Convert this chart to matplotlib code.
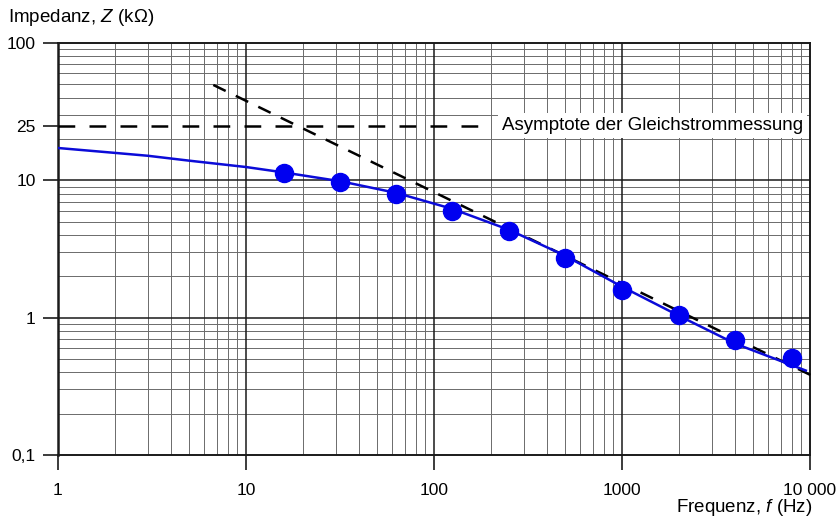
import numpy as np
import matplotlib
matplotlib.use('Agg')
import matplotlib.pyplot as plt
from matplotlib.ticker import LogLocator, NullFormatter, FixedLocator

plt.rcParams['font.family'] = ['Liberation Sans', 'DejaVu Sans']
plt.rcParams['mathtext.fontset'] = 'custom'
plt.rcParams['mathtext.rm'] = 'Liberation Sans'
plt.rcParams['mathtext.it'] = 'Liberation Sans:italic'

# measured points (Hz, kOhm)
freq_meas = [16, 31.5, 63, 125, 250, 500, 1000, 2000, 4000, 8000]
z_meas = [11.3, 9.7, 7.98, 6.0, 4.29, 2.72, 1.60, 1.05, 0.684, 0.505]

# fitted curve
freq_fit = [1, 2, 3, 5, 10, 16, 32, 63, 125, 250, 500, 1000, 2000, 4000, 9500]
z_fit = [17.2, 15.85, 15.1, 13.9, 12.5, 11.4, 9.83, 8.1, 6.2, 4.37, 2.82, 1.68, 1.035, 0.647, 0.412]

# asymptotes
freq_hf = [6.7, 11300]
z_hf = [49.5, 0.354]
freq_dc = [1, 189]
z_dc = [25, 25]
dc_label = 'Asymptote der Gleichstrommessung'

y_ticks = [0.1, 1, 10, 25, 100]
y_ticklabels = ['0,1', '1', '10', '25', '100']
x_ticks = [1, 10, 100, 1000, 10000]
x_ticklabels = ['1', '10', '100', '1000', '10 000']

fig = plt.figure(figsize=(8.38, 5.2), dpi=100)
ax = fig.add_axes([58/838, 1 - 455/520, (810 - 58)/838, (455 - 43)/520])
ax.set_xscale('log')
ax.set_yscale('log')
ax.set_xlim(1, 10000)
ax.set_ylim(0.1, 100)

# grid
ax.xaxis.set_minor_locator(LogLocator(base=10, subs=np.arange(2, 10)))
ax.yaxis.set_minor_locator(LogLocator(base=10, subs=np.arange(2, 10)))
ax.xaxis.set_minor_formatter(NullFormatter())
ax.yaxis.set_minor_formatter(NullFormatter())
ax.grid(which='minor', color='0.42', lw=0.7, zorder=0)
for v in x_ticks[1:-1]:
  ax.axvline(v, color='0.1', lw=1.1, zorder=1)
for v in [1, 10]:
  ax.axhline(v, color='0.1', lw=1.1, zorder=1)

ax.xaxis.set_major_locator(FixedLocator(x_ticks))
ax.set_xticklabels(x_ticklabels)
ax.yaxis.set_major_locator(FixedLocator(y_ticks))
ax.set_yticklabels(y_ticklabels)
ax.tick_params(which='major', length=11, width=1.2, color='0.1', labelsize=12.5)
ax.tick_params(axis='x', which='major', pad=9)
ax.tick_params(axis='y', which='major', pad=5)
ax.tick_params(which='minor', length=0)
ax.set_axisbelow(True)

for s in ax.spines.values():
  s.set_linewidth(1.4)
  s.set_color('0.1')
ax.spines['left'].set_linewidth(1.8)

# curves
ax.plot(freq_fit, z_fit, color='#0b0bd8', lw=1.8, zorder=4)
ax.plot(freq_hf, z_hf, color='black', lw=1.8, ls=(0, (5.5, 4.5)), zorder=3, clip_on=False)
ax.plot(freq_dc, z_dc, color='black', lw=1.8, ls=(0, (6.7, 5.7)), zorder=3)
ax.plot(freq_meas, z_meas, 'o', color='#0000f0', ms=13, zorder=5)

ax.text(230, 25, dc_label, fontsize=13.5, va='center', ha='left', zorder=6,
        bbox=dict(facecolor='white', edgecolor='none', pad=3))

fig.text(8/838, 1 - 18/520, 'Impedanz, $\\mathit{Z}$ (k\u03a9)', fontsize=13.5, va='center', ha='left')
fig.text(812/838, 1 - 508/520, 'Frequenz, $\\mathit{f}$ (Hz)', fontsize=13.5, va='center', ha='right')

fig.savefig('out.png', dpi=100)
